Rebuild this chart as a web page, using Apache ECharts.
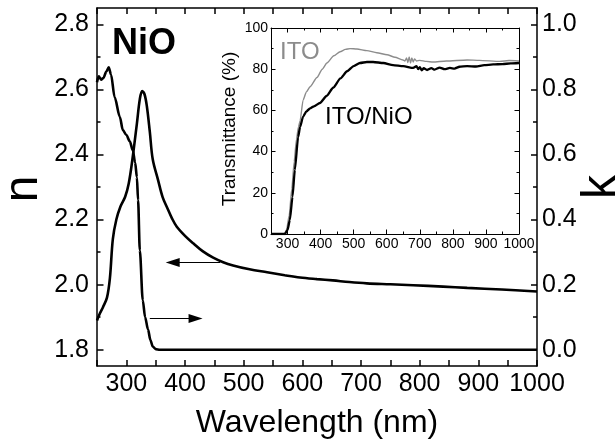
<!DOCTYPE html>
<html>
<head>
<meta charset="utf-8">
<script src="https://cdn.jsdelivr.net/npm/echarts@6/dist/echarts.min.js"></script>
<style>
  html, body { margin: 0; padding: 0; background: #fff; }
  #chart { width: 616px; height: 440px; }
</style>
</head>
<body>
<div id="chart"></div>
<script>
// Refractive index n of the NiO film (left axis)
const nWavelength = [250, 255, 260, 267, 272, 277, 283, 290, 298, 304, 310, 318, 323, 327, 331, 335, 340, 345, 354, 362, 370, 378, 386, 400, 414, 430, 448, 465, 482, 510, 540, 570, 596, 625, 652, 680, 710, 750, 789, 840, 881, 940, 1000];
const nIndex      = [1.890, 1.912, 1.930, 1.960, 2.020, 2.140, 2.200, 2.240, 2.270, 2.310, 2.380, 2.495, 2.570, 2.595, 2.585, 2.548, 2.470, 2.385, 2.322, 2.268, 2.235, 2.203, 2.178, 2.150, 2.127, 2.103, 2.083, 2.069, 2.059, 2.047, 2.038, 2.029, 2.022, 2.017, 2.013, 2.008, 2.004, 2.001, 1.998, 1.994, 1.990, 1.985, 1.979];

// Extinction coefficient k of the NiO film (right axis)
const kWavelength = [250, 253, 257, 261, 266, 270, 274, 280, 289, 294, 300, 306, 311, 315, 318, 320, 323, 328, 332, 337, 341, 345, 350, 357, 1000];
const kExtinction = [0.822, 0.840, 0.830, 0.835, 0.855, 0.868, 0.845, 0.776, 0.715, 0.675, 0.660, 0.640, 0.613, 0.575, 0.530, 0.460, 0.305, 0.152, 0.100, 0.062, 0.030, 0.010, 0.002, 0.0, 0.0];

// Inset: transmittance of bare ITO
const itoWavelength     = [250, 290, 297, 305, 313, 320, 327, 333, 338, 347, 357, 368, 389, 405, 419, 440, 459, 475, 489, 510, 540, 570, 601, 625, 649, 655, 660, 664, 668, 672, 676, 680, 684, 690, 700, 720, 740, 780, 843, 880, 942, 970, 1000];
const itoTransmittance  = [0, 0, 2, 9, 22, 35, 46, 52, 55, 65, 69, 71.5, 76, 80, 83, 86.5, 88.5, 89.6, 90, 89.8, 89, 88, 87, 85.8, 84.5, 84, 85.5, 83.2, 86, 83, 85.5, 83.5, 85, 84, 84.3, 83.8, 83.5, 84, 84.5, 84.3, 83.8, 84.2, 84];

// Inset: transmittance of ITO/NiO
const itoNioWavelength    = [250, 292, 300, 307, 315, 322, 332, 338, 347, 357, 368, 380, 398, 418, 438, 460, 480, 500, 519, 540, 559, 590, 619, 650, 680, 690, 695, 700, 706, 712, 722, 735, 745, 760, 775, 791, 805, 820, 843, 870, 895, 922, 950, 975, 1000];
const itoNioTransmittance = [0, 0, 2, 6.8, 18, 31, 47, 52, 57, 59.5, 61, 62, 63.6, 67, 71, 75.5, 79, 81.5, 83, 83.5, 83.5, 83, 82, 81.5, 80.6, 81.5, 80, 81, 79.5, 80.5, 79.6, 80.5, 79.8, 80.8, 80, 80.6, 80.3, 81.2, 81.5, 81.3, 82, 82.3, 82.5, 82.8, 83];

// Tick positions and labels
const mainXTicks   = [250, 300, 350, 400, 450, 500, 550, 600, 650, 700, 750, 800, 850, 900, 950, 1000];
const mainXLabels  = [300, 400, 500, 600, 700, 800, 900, 1000];
const nMajorTicks  = [1.8, 2.0, 2.2, 2.4, 2.6, 2.8];
const nMinorTicks  = [1.9, 2.1, 2.3, 2.5, 2.7];
const kMajorTicks  = [0.0, 0.2, 0.4, 0.6, 0.8, 1.0];
const kMinorTicks  = [0.1, 0.3, 0.5, 0.7, 0.9];
const insetXMajor  = [300, 400, 500, 600, 700, 800, 900, 1000];
const insetXMinor  = [350, 450, 550, 650, 750, 850, 950];
const insetYMajor  = [0, 20, 40, 60, 80, 100];
const insetYMinor  = [10, 30, 50, 70, 90];

const FONT = 'Liberation Sans, Arial, Helvetica, sans-serif';
const zip = (xs, ys) => xs.map((x, i) => [x, ys[i]]);

// Builds one value axis; ticks point into the plot area
function axis(o) {
  return {
    type: 'value',
    gridIndex: o.grid,
    position: o.position,
    min: o.min,
    max: o.max,
    axisLine: { show: o.line !== false, onZero: false, lineStyle: { color: '#000', width: o.lineWidth || 1.5 } },
    axisTick: { show: true, inside: true, length: o.tickLen, customValues: o.ticks, lineStyle: { color: '#000', width: o.lineWidth || 1.5 } },
    axisLabel: {
      show: !!o.labels,
      customValues: o.labels,
      margin: o.margin,
      fontSize: o.fontSize,
      fontFamily: FONT,
      color: '#000',
      formatter: o.fmt
    },
    splitLine: { show: false }
  };
}

const fmt1 = v => Number(v).toFixed(1);
const fmt0 = v => String(Math.round(v));

const xAxes = [
  // main plot
  axis({ grid: 0, position: 'bottom', min: 250, max: 1000, ticks: mainXTicks, labels: mainXLabels, tickLen: 6, margin: 6, fontSize: 25, fmt: fmt0 }),
  axis({ grid: 0, position: 'top', min: 250, max: 1000, ticks: mainXTicks, tickLen: 6 }),
  // inset
  axis({ grid: 1, position: 'bottom', min: 250, max: 1000, ticks: insetXMajor, labels: insetXMajor, tickLen: 4.5, margin: 3, fontSize: 14, fmt: fmt0, lineWidth: 1 }),
  axis({ grid: 1, position: 'bottom', min: 250, max: 1000, ticks: insetXMinor, tickLen: 2.5, line: false, lineWidth: 1 }),
  axis({ grid: 1, position: 'top', min: 250, max: 1000, ticks: insetXMajor, tickLen: 4.5, lineWidth: 1 }),
  axis({ grid: 1, position: 'top', min: 250, max: 1000, ticks: insetXMinor, tickLen: 2.5, line: false, lineWidth: 1 })
];

const yAxes = [
  // main plot: n on the left, k on the right
  axis({ grid: 0, position: 'left', min: 1.75, max: 2.85, ticks: nMajorTicks, labels: nMajorTicks, tickLen: 6.5, margin: 8, fontSize: 25, fmt: fmt1 }),
  axis({ grid: 0, position: 'left', min: 1.75, max: 2.85, ticks: nMinorTicks, tickLen: 3.5, line: false }),
  axis({ grid: 0, position: 'right', min: -0.05, max: 1.05, ticks: kMajorTicks, labels: kMajorTicks, tickLen: 6, margin: 5, fontSize: 25, fmt: fmt1 }),
  axis({ grid: 0, position: 'right', min: -0.05, max: 1.05, ticks: kMinorTicks, tickLen: 4, line: false }),
  // inset
  axis({ grid: 1, position: 'left', min: 0, max: 100, ticks: insetYMajor, labels: insetYMajor, tickLen: 4.5, margin: 3, fontSize: 14, fmt: fmt0, lineWidth: 1 }),
  axis({ grid: 1, position: 'left', min: 0, max: 100, ticks: insetYMinor, tickLen: 2.5, line: false, lineWidth: 1 }),
  axis({ grid: 1, position: 'right', min: 0, max: 100, ticks: insetYMajor, tickLen: 4.5, lineWidth: 1 }),
  axis({ grid: 1, position: 'right', min: 0, max: 100, ticks: insetYMinor, tickLen: 2.5, line: false, lineWidth: 1 })
];

xAxes[0].name = 'Wavelength (nm)';
xAxes[0].nameLocation = 'middle';
xAxes[0].nameGap = 41;
xAxes[0].nameTextStyle = { fontSize: 32, fontFamily: FONT, color: '#000' };

// Straight pointer line ending in a filled triangular head
function arrow(from, to) {
  return {
    silent: true,
    symbol: ['none', 'triangle'],
    symbolSize: [9, 14],
    label: { show: false },
    lineStyle: { color: '#000', width: 1, type: 'solid' },
    emphasis: { disabled: true },
    data: [[{ coord: from }, { coord: to }]]
  };
}

const option = {
  animation: false,
  backgroundColor: '#fff',
  grid: [
    { left: 97, top: 8, width: 440, height: 358, outerBoundsMode: 'none' },
    { left: 271, top: 28, width: 248, height: 206, outerBoundsMode: 'none', show: true, backgroundColor: '#fff', borderWidth: 0 }
  ],
  xAxis: xAxes,
  yAxis: yAxes,
  series: [
    {
      name: 'n', type: 'line', xAxisIndex: 0, yAxisIndex: 0,
      data: zip(nWavelength, nIndex),
      showSymbol: false, smooth: 0.35,
      lineStyle: { color: '#000', width: 2.6 },
      markLine: arrow([460, 2.068], [379, 2.068])
    },
    {
      name: 'k', type: 'line', xAxisIndex: 0, yAxisIndex: 2,
      data: zip(kWavelength, kExtinction),
      showSymbol: false, smooth: 0.3, smoothMonotone: 'x',
      lineStyle: { color: '#000', width: 2.6 },
      markLine: arrow([340, 0.096], [418, 0.096])
    },
    {
      name: 'ITO', type: 'line', xAxisIndex: 2, yAxisIndex: 4,
      data: zip(itoWavelength, itoTransmittance),
      showSymbol: false, smooth: 0.2, smoothMonotone: 'x',
      lineStyle: { color: '#8c8c8c', width: 1.4 }
    },
    {
      name: 'ITO/NiO', type: 'line', xAxisIndex: 2, yAxisIndex: 4,
      data: zip(itoNioWavelength, itoNioTransmittance),
      showSymbol: false, smooth: 0.2, smoothMonotone: 'x',
      lineStyle: { color: '#000', width: 2.3 }
    }
  ],
  graphic: [
    { type: 'text', x: 112, y: 44, style: { text: 'NiO', font: 'bold 36px ' + FONT, fill: '#000', align: 'left', verticalAlign: 'middle' } },
    { type: 'text', x: 280, y: 52, style: { text: 'ITO', font: '24px ' + FONT, fill: '#8c8c8c', align: 'left', verticalAlign: 'middle' } },
    { type: 'text', x: 325, y: 117, style: { text: 'ITO/NiO', font: '24px ' + FONT, fill: '#000', align: 'left', verticalAlign: 'middle' } },
    { type: 'text', x: 230, y: 129, rotation: Math.PI / 2, style: { text: 'Transmittance (%)', font: '19px ' + FONT, fill: '#000', align: 'center', verticalAlign: 'middle' } },
    { type: 'text', x: 24, y: 189, rotation: Math.PI / 2, style: { text: 'n', font: '48px ' + FONT, fill: '#000', align: 'center', verticalAlign: 'middle' } },
    { type: 'text', x: 602, y: 187, rotation: Math.PI / 2, style: { text: 'k', font: '48px ' + FONT, fill: '#000', align: 'center', verticalAlign: 'middle' } }
  ]
};

const chart = echarts.init(document.getElementById('chart'), null, { renderer: 'canvas' });
chart.setOption(option);
</script>
</body>
</html>
